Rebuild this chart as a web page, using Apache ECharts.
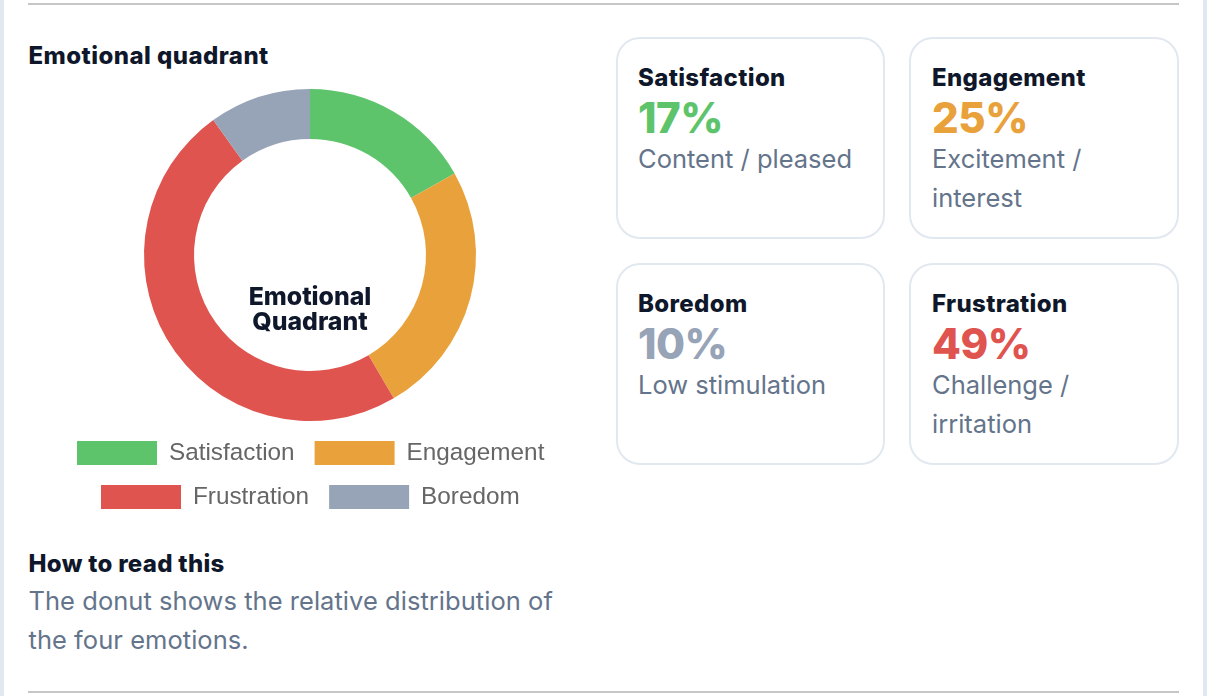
<!DOCTYPE html>
<html>
<head>
<meta charset="utf-8">
<script src="https://cdn.jsdelivr.net/npm/echarts@6/dist/echarts.min.js"></script>
<style>
  html, body { margin: 0; padding: 0; background: #fff; }
  body { width: 1212px; height: 696px; position: relative; overflow: hidden; font-family: Inter, sans-serif; }
  .edge { position: absolute; top: 0; height: 696px; background: #e2e8f0; width: 4px; }
  .rule { position: absolute; left: 28px; width: 1151px; height: 2px; background: #c6c6c6; }
  .head { position: absolute; left: 28.5px; font-weight: 800; color: #0f172a; white-space: nowrap; }
  .note { position: absolute; left: 28.5px; top: 581px; width: 560px; font-size: 25.5px; line-height: 39px; letter-spacing: 0.04px; color: #64748b; }
  #chart { position: absolute; left: 0; top: 70px; width: 600px; height: 450px; }
  .card { position: absolute; height: 198px; border: 2px solid #e2e8f0; border-radius: 24px; background: #fff; }
  .card b { position: absolute; top: 24px; font-size: 24px; line-height: 30px; font-weight: 800; letter-spacing: 0.35px; color: #0f172a; white-space: nowrap; }
  .card i { position: absolute; top: 53px; font-style: normal; font-size: 42px; line-height: 52px; font-weight: 800; letter-spacing: -0.5px; white-space: nowrap; }
  .card span { position: absolute; top: 100px; width: 225px; font-size: 25.5px; line-height: 39px; color: #64748b; }
</style>
</head>
<body>
<div class="edge" style="left:0"></div>
<div class="edge" style="left:1203px"></div>
<div class="rule" style="top:3px"></div>
<div class="rule" style="top:691px"></div>
<div class="head" style="top:41px;font-size:24px;line-height:30px;letter-spacing:0.45px">Emotional quadrant</div>
<div id="chart"></div>
<div class="head" style="top:549px;font-size:24px;line-height:30px;letter-spacing:0.3px">How to read this</div>
<div class="note">The donut shows the relative distribution of the four emotions.</div>
<div id="cards"></div>
<script>
// donut order, clockwise from the top
var emotions = ['Satisfaction', 'Engagement', 'Frustration', 'Boredom']
var shares = [17, 25, 49, 10]
var colors = ['#5ec46b', '#e9a23b', '#e0544f', '#97a3b6']

// cards read left to right, top to bottom
var cardNames = ['Satisfaction', 'Engagement', 'Boredom', 'Frustration']
var cardNotes = ['Content / pleased', 'Excitement / interest', 'Low stimulation', 'Challenge / irritation']
var cardLefts = [616, 909, 616, 909]
var cardWidths = [265, 266, 265, 266]
var cardTops = [37, 37, 263, 263]
var cardInsets = [20, 21, 20, 21]

var cardsDom = document.getElementById('cards')
cardNames.forEach(function (name, i) {
  var idx = emotions.indexOf(name)
  var card = document.createElement('div')
  var pad = 'left:' + cardInsets[i] + 'px;'
  card.className = 'card'
  card.style.left = cardLefts[i] + 'px'
  card.style.top = cardTops[i] + 'px'
  card.style.width = cardWidths[i] + 'px'
  card.innerHTML = '<b style="' + pad + '">' + name + '</b>' +
    '<i style="' + pad + 'color:' + colors[idx] + '">' + shares[idx] + '%</i>' +
    '<span style="' + pad + '">' + cardNotes[i] + '</span>'
  cardsDom.appendChild(card)
})

var legendBase = {
  orient: 'horizontal',
  padding: 0,
  itemWidth: 80,
  itemHeight: 24,
  itemGap: 20,
  icon: 'rect',
  selectedMode: false,
  textStyle: {
    fontFamily: '"Liberation Sans", Arial, sans-serif',
    fontSize: 24.3,
    color: '#666',
    padding: [2, 0, 0, 7]
  }
}

var chart = echarts.init(document.getElementById('chart'), null, { renderer: 'canvas' })
chart.setOption({
  animation: false,
  title: {
    text: 'Emotional\nQuadrant',
    left: 310,
    top: 215,
    padding: 0,
    textAlign: 'center',
    textStyle: {
      fontFamily: 'Inter, sans-serif',
      fontSize: 24.8,
      fontWeight: 800,
      lineHeight: 25,
      color: '#0f172a'
    }
  },
  legend: [
    Object.assign({}, legendBase, { left: 77, top: 371, data: emotions.slice(0, 2) }),
    Object.assign({}, legendBase, { left: 101, top: 415, data: emotions.slice(2) })
  ],
  series: [{
    type: 'pie',
    center: [310, 185],
    radius: [116, 166],
    startAngle: 90,
    clockwise: true,
    silent: true,
    label: { show: false },
    labelLine: { show: false },
    itemStyle: { borderWidth: 0 },
    data: emotions.map(function (name, i) {
      return { name: name, value: shares[i], itemStyle: { color: colors[i] } }
    })
  }]
})
</script>
</body>
</html>
